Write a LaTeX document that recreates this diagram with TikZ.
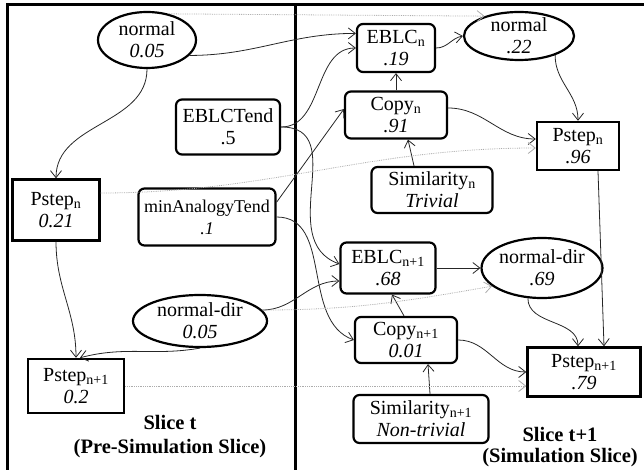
\documentclass[tikz,border=0pt]{standalone}
\usepackage{fontspec}
\setmainfont{Liberation Serif}
\usetikzlibrary{shapes.geometric,arrows.meta}

\tikzset{
  var/.style={draw,line width=2.2pt,rounded corners=6pt,align=center,inner sep=1pt},
  obs/.style={draw,line width=2.4pt,align=center,inner sep=1pt},
  dist/.style={draw,ellipse,line width=2.2pt,align=center,inner sep=0pt,inner ysep=-4pt},
  link/.style={black!85,line width=0.8pt,-{Straight Barb[length=7pt,width=11pt]}},
  tlink/.style={gray!65,line width=0.8pt,densely dotted,-{Straight Barb[length=7pt,width=11pt]}},
  slicelabel/.style={font=\fontsize{20.5}{24}\selectfont\bfseries,align=center}
}

\begin{document}
\begin{tikzpicture}[x=1pt,y=1pt,every node/.style={font=\fontsize{20}{22}\selectfont}]
    \useasboundingbox (0,0) rectangle (644,-470);
    % slice frame
    \draw[line width=3pt] (7,-470) -- (7,-5) -- (644,-5);
    \draw[line width=3pt] (295,-5) -- (295,-470);

    % slice t
    \node[dist,minimum width=98pt,minimum height=56pt] (n005) at (147,-40) {normal\\\textit{0.05}};
    \node[var,minimum width=104pt,minimum height=55pt] (eblctend) at (228,-127) {EBLCTend\\.5};
    \node[obs,minimum width=87pt,minimum height=61pt] (pstepn) at (56,-210) {Pstep\textsubscript{n}\\\textit{0.21}};
    \node[var,minimum width=137pt,minimum height=57pt,font=\fontsize{18}{22}\selectfont] (mat) at (207,-217) {minAnalogyTend\\\textit{.1}};
    \node[dist,minimum width=134pt,minimum height=52pt] (ndir005) at (200,-321) {normal-dir\\\textit{0.05}};
    \node[obs,minimum width=96pt,minimum height=54pt] (pstepn1) at (76,-386) {Pstep\textsubscript{n+1}\\\textit{0.2}};
    \node[slicelabel] (slicet) at (170,-437) {Slice t\\(Pre-Simulation Slice)};

    % slice t+1
    \node[var,minimum width=78pt,minimum height=48pt] (eblcn) at (396,-48) {EBLC\textsubscript{n}\\\textit{.19}};
    \node[dist,minimum width=110pt,minimum height=48pt] (n22) at (519,-36) {normal\\\textit{.22}};
    \node[var,minimum width=102pt,minimum height=47pt] (copyn) at (396,-115) {Copy\textsubscript{n}\\\textit{.91}};
    \node[obs,minimum width=82pt,minimum height=48pt] (pstepn96) at (578,-146) {Pstep\textsubscript{n}\\\textit{.96}};
    \node[var,minimum width=121pt,minimum height=46pt] (simn) at (432,-190) {Similarity\textsubscript{n}\\\textit{Trivial}};
    \node[var,minimum width=95pt,minimum height=51pt] (eblcn1) at (388,-268) {EBLC\textsubscript{n+1}\\\textit{.68}};
    \node[dist,minimum width=116pt,minimum height=60pt] (ndir69) at (542,-268) {normal-dir\\\textit{.69}};
    \node[var,minimum width=102pt,minimum height=46pt] (copyn1) at (406,-340) {Copy\textsubscript{n+1}\\\textit{0.01}};
    \node[obs,minimum width=113pt,minimum height=49pt] (pstep79) at (584,-372) {Pstep\textsubscript{n+1}\\\textit{.79}};
    \node[var,minimum width=135pt,minimum height=48pt] (simn1) at (421,-419) {Similarity\textsubscript{n+1}\\\textit{Non-trivial}};
    \node[slicelabel,font=\fontsize{20.5}{21}\selectfont\bfseries] (slicet1) at (560,-447) {Slice t+1\\(Simulation Slice)};

    % dependencies
    \draw[link] (n005.-20) to[out=0,in=180] (eblcn.160);
    \draw[link] (n005.south) to[out=-90,in=90] (pstepn.north);
    \draw[link] (eblctend.east) to[out=0,in=180] (eblcn.west);
    \draw[link] (eblctend.east) to[out=0,in=160,looseness=1.2] ([yshift=4pt]eblcn1.west);
    \draw[link] (mat.12) -- ([yshift=6pt]copyn.west);
    \draw[link] (mat.east) to[out=0,in=160] (copyn1.west);
    \draw[link] (ndir005.10) to[out=0,in=180] (eblcn1.195);
    \draw[link] (ndir005.south) to[out=190,in=15] ([xshift=4pt]pstepn1.north);
    \draw[link] (pstepn.south) to[out=-90,in=90] (pstepn1.north);
    \draw[link] (eblcn.east) to[out=0,in=190] (n22.west);
    \draw[link] (copyn.north) -- (eblcn.south);
    \draw[link] ([xshift=-18pt]simn.north) -- ([xshift=12pt]copyn.south);
    \draw[link] ([yshift=7pt]copyn.east) to[out=0,in=180] ([yshift=7pt]pstepn96.west);
    \draw[link] (n22.-28) to[out=-90,in=90] (pstepn96.north);
    \draw[link] ([xshift=20pt]pstepn96.south) -- ([xshift=20pt]pstep79.north);
    \draw[link] (eblcn1.east) -- (ndir69.west);
    \draw[link] ([xshift=-2pt]copyn1.north) -- ([xshift=4pt]eblcn1.south);
    \draw[link] ([xshift=9pt]simn1.north) -- ([xshift=22pt]copyn1.south);
    \draw[link] (copyn1.east) to[out=0,in=180] (pstep79.west);
    \draw[link] (ndir69.245) to[out=-90,in=90] ([xshift=-6pt]pstep79.north);

    % temporal links
    \draw[tlink] (n005.50) -- (n22.150);
    \draw[tlink] ([yshift=17pt]pstepn.east) to[out=0,in=180] ([yshift=-2pt]pstepn96.west);
    \draw[tlink] (ndir005.10) to[out=0,in=190] (ndir69.200);
    \draw[tlink] (pstepn1.east) -- (pstepn1.east -| pstep79.west);
\end{tikzpicture}
\end{document}
